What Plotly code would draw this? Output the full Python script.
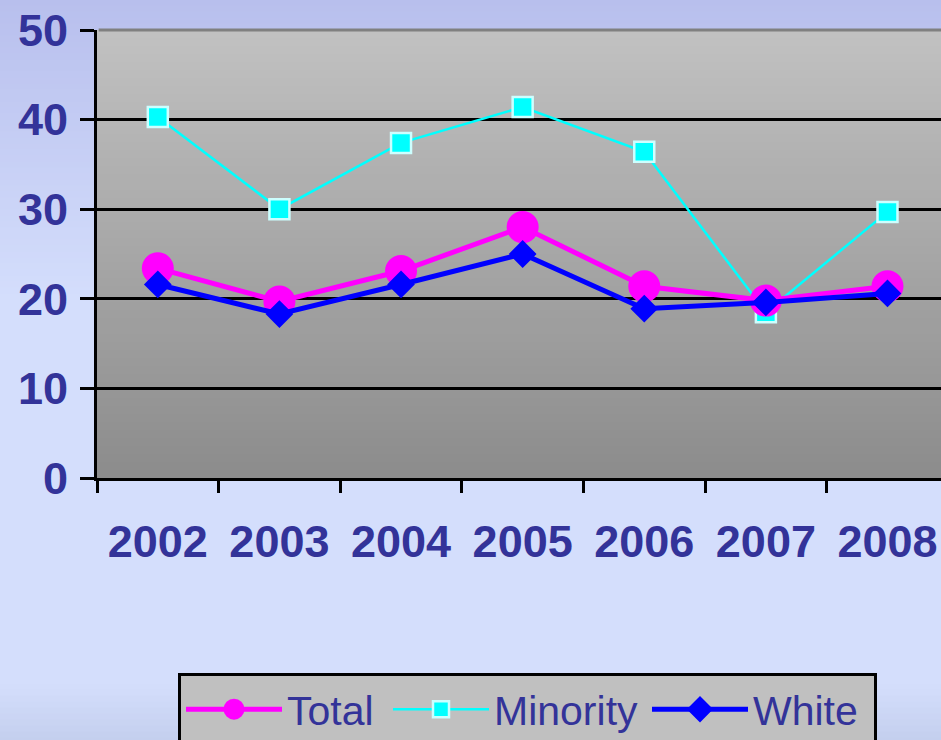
import plotly.graph_objects as go

years = ["2002", "2003", "2004", "2005", "2006", "2007", "2008"]
total = [23.4, 19.7, 23.1, 28.0, 21.4, 19.8, 21.4]
minority = [40.3, 30.0, 37.4, 41.4, 36.4, 18.5, 29.7]
white = [21.6, 18.3, 21.6, 25.0, 18.9, 19.6, 20.6]

W, H = 941, 740
ML, MR, MT, MB = 97, 0, 30, 262
PW, PH = W - ML - MR, H - MT - MB

TXT = "#333399"
FONT = "Liberation Sans, Arial, sans-serif"

fig = go.Figure()
fig.add_trace(go.Scatter(
    x=years, y=minority, name="Minority", mode="lines+markers", legendrank=2,
    legendwidth=148,
    line=dict(color="#00ffff", width=2.5),
    marker=dict(symbol="square", size=20, color="#00ffff",
                line=dict(color="#ccffff", width=2.5)),
))
fig.add_trace(go.Scatter(
    x=years, y=total, name="Total", mode="lines+markers", legendrank=1,
    legendwidth=96,
    line=dict(color="#ff00ff", width=5),
    marker=dict(symbol="circle", size=27, color="#ff00ff",
                line=dict(color="#ff00ff", width=5)),
))
fig.add_trace(go.Scatter(
    x=years, y=white, name="White", mode="lines+markers", legendrank=3,
    legendwidth=116,
    line=dict(color="#0000ff", width=5),
    marker=dict(symbol="diamond", size=17, color="#0000ff",
                line=dict(color="#0000ff", width=4)),
))

shapes = []


def lerp(c1, c2, t):
    return tuple(round(a + (b - a) * t) for a, b in zip(c1, c2))


def col(c):
    return "rgb(%d,%d,%d)" % c


def py(pix):
    return 1 - (pix - MT) / PH


# page background gradient
stops = [(0, (184, 191, 237)), (300, (212, 222, 252)), (685, (212, 222, 252)), (740, (196, 207, 238))]
step = 6
for y0 in range(0, H, step):
    y1 = min(H, y0 + step)
    ym = (y0 + y1) / 2
    for i in range(len(stops) - 1):
        if stops[i][0] <= ym <= stops[i + 1][0]:
            t = (ym - stops[i][0]) / (stops[i + 1][0] - stops[i][0])
            c = lerp(stops[i][1], stops[i + 1][1], t)
            break
    shapes.append(dict(type="rect", xref="paper", yref="paper", layer="below",
                       x0=-ML / PW - 0.01, x1=1.01, y0=py(y1 + 1), y1=py(y0 - 0.5),
                       fillcolor=col(c), line=dict(width=0)))

# plot area gradient
n = 56
top_c, bot_c = (193, 193, 193), (140, 140, 140)
for i in range(n):
    t = (i + 0.5) / n
    c = lerp(top_c, bot_c, t)
    shapes.append(dict(type="rect", xref="x domain", yref="y domain", layer="below",
                       x0=0, x1=1, y0=1 - (i + 1) / n - 0.002, y1=1 - i / n,
                       fillcolor=col(c), line=dict(width=0)))

# gray top border of plot area
shapes.append(dict(type="line", xref="x domain", yref="y domain", layer="above",
                   x0=0.002, x1=1, y0=1, y1=1, line=dict(color="#808080", width=3)))

fig.update_layout(
    width=W, height=H,
    margin=dict(l=ML, r=MR, t=MT, b=MB, pad=0, autoexpand=False),
    paper_bgcolor="#c4cfee",
    plot_bgcolor="rgba(0,0,0,0)",
    shapes=shapes,
    showlegend=True,
    legend=dict(
        orientation="h", x=(178 - ML) / PW, xanchor="left",
        y=py(673), yanchor="top",
        bgcolor="#c0c0c0", bordercolor="#000000", borderwidth=3,
        font=dict(family=FONT, size=41, color=TXT),
        itemwidth=96, itemsizing="trace", traceorder="normal",
    ),
    xaxis=dict(
        type="category", range=[-0.5, 6.44],
        showline=True, linecolor="#000000", linewidth=3,
        ticks="outside", tickson="boundaries", ticklen=12, tickwidth=3, tickcolor="#000000",
        showgrid=False, zeroline=False,
        tickfont=dict(family=FONT, size=45, color=TXT, weight="bold"),
        ticklabelstandoff=22,
    ),
    yaxis=dict(
        range=[0, 50], tickvals=[0, 10, 20, 30, 40, 50],
        showline=True, linecolor="#000000", linewidth=3,
        ticks="outside", ticklen=14, tickwidth=3, tickcolor="#000000",
        showgrid=True, gridcolor="#000000", gridwidth=3, zeroline=False,
        tickfont=dict(family=FONT, size=45, color=TXT, weight="bold"),
        ticklabelstandoff=3,
    ),
    hovermode=False,
)

fig.write_html(
    "out.html",
    config={"displayModeBar": False, "staticPlot": True},
    post_script="document.body.style.margin='0';document.body.style.overflow='hidden';document.body.style.background='#c4cfee';",
)
